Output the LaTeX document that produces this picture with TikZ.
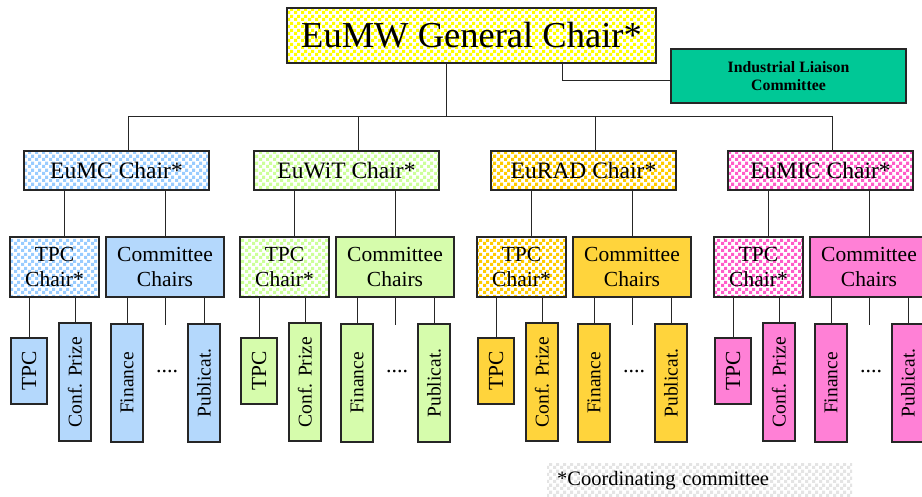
\documentclass[tikz,border=0pt]{standalone}
\usepackage{fontspec}
\setmainfont{Liberation Serif}
\usetikzlibrary{patterns.meta}
\usepackage{xcolor}
\definecolor{boxline}{HTML}{262626}
\definecolor{genchk}{HTML}{FFFF00}
\definecolor{ilcfill}{HTML}{00C896}
\definecolor{mcchk}{HTML}{99CCFF}
\definecolor{mcfill}{HTML}{B4D8FC}
\definecolor{witchk}{HTML}{CCFF99}
\definecolor{witfill}{HTML}{D6FCAC}
\definecolor{radchk}{HTML}{FFCC00}
\definecolor{radfill}{HTML}{FFD43C}
\definecolor{micchk}{HTML}{FF5CC8}
\definecolor{micfill}{HTML}{FF80D6}
\definecolor{notechk}{HTML}{E4E4E4}
\pgfdeclarepattern{
  name=checker,
  type=uncolored,
  bottom left={\pgfpointorigin},
  top right={\pgfpoint{7pt}{7pt}},
  tile size={\pgfpoint{7pt}{7pt}},
  code={
    \pgfpathrectangle{\pgfpointorigin}{\pgfpoint{3.5pt}{3.5pt}}
    \pgfpathrectangle{\pgfpoint{3.5pt}{3.5pt}}{\pgfpoint{3.5pt}{3.5pt}}
    \pgfusepath{fill}
  }
}
\tikzset{
  chk/.style     ={pattern=checker, pattern color=#1},
  box/.style     ={rectangle, draw=boxline, line width=1.3pt, inner sep=0pt, align=center},
  genbox/.style  ={box, chk=genchk, minimum width=369pt, minimum height=55pt,
                   font=\fontsize{36.5}{40}\selectfont},
  ilcbox/.style  ={box, fill=ilcfill, minimum width=235pt, minimum height=54pt,
                   font=\fontsize{15.8}{18.5}\selectfont\bfseries},
  chairbox/.style={box, chk=#1, minimum width=185pt, minimum height=39pt,
                   font=\fontsize{23.5}{25}\selectfont},
  tpcbox/.style  ={box, chk=#1, minimum width=89pt, minimum height=60pt,
                   font=\fontsize{21.5}{25}\selectfont},
  commbox/.style ={box, fill=#1, minimum width=118pt, minimum height=60pt,
                   font=\fontsize{21.5}{25}\selectfont},
  subbox/.style  ={box, fill=#1, rotate=90, minimum width=118pt, minimum height=32pt,
                   font=\fontsize{19.5}{21}\selectfont},
  tpcsub/.style  ={subbox=#1, minimum width=66pt, minimum height=36pt,
                   font=\fontsize{21.5}{24}\selectfont},
  wire/.style    ={draw=boxline, line width=0.9pt},
  notebox/.style ={rectangle, chk=notechk, inner xsep=10pt, inner ysep=0pt,
                   minimum height=34pt, text width=285pt, align=left,
                   font=\fontsize{20.5}{24}\selectfont},
}
\begin{document}
\begin{tikzpicture}[x=1pt, y=-1pt]
  \fill[white] (0,0) rectangle (922,497);
  \useasboundingbox (0,0) rectangle (922,497);

  % top level
  \node[genbox] (gen) at (471.5,35.5) {EuMW General Chair*};
  \node[ilcbox] (ilc) at (788.5,76) {Industrial Liaison\\Committee};
  \draw[wire] ([xshift=90.5pt]gen.south) |- ([yshift=-4pt]ilc.west);

  \coordinate (busL) at (128,116);
  \coordinate (busR) at (832,116);
  \draw[wire] (busL) -- (busR);
  \draw[wire] ([xshift=-25.5pt]gen.south) -- ([xshift=-25.5pt]gen.south |- busL);

  % one branch per conference
  \foreach \gx/\id/\lbl in {24/mc/EuMC, 254/wit/EuWiT, 491/rad/EuRAD, 728/mic/EuMIC} {
    \node[chairbox=\id chk] (\id-ch) at (\gx+92.5,170.5) {\lbl{} Chair*};
    \node[tpcbox=\id chk] (\id-tc) at (\gx+30.5,267) {TPC\\Chair*};
    \node[commbox=\id fill] (\id-cc) at (\gx+141,267) {Committee\\Chairs};

    \node[tpcsub=\id fill] (\id-t) at (\gx+5,371) {TPC};
    \node[subbox=\id fill] (\id-cp) at (\gx+51,382) {Conf. Prize};
    \node[subbox=\id fill] (\id-fi) at (\gx+103,383) {Finance};
    \node[subbox=\id fill] (\id-pu) at (\gx+180,383) {Publicat.};
    \node[anchor=base, inner sep=0pt, font=\fontsize{22}{24}\selectfont] (\id-dots) at (\gx+143,373) {....};

    \draw[wire] ([xshift=11.5pt]\id-ch.north) -- ([xshift=11.5pt]\id-ch.north |- busL);
    \draw[wire] ([xshift=-52.5pt]\id-ch.south) -- ([xshift=-52.5pt]\id-ch.south |- \id-tc.north);
    \draw[wire] ([xshift=48.5pt]\id-ch.south) -- (\id-cc.north);
    \draw[wire] (\id-t.east) -- (\id-t.east |- \id-tc.south);
    \draw[wire] (\id-cp.east) -- (\id-cp.east |- \id-tc.south);
    \draw[wire] (\id-fi.east) -- (\id-fi.east |- \id-cc.south);
    \draw[wire] (\id-pu.east) -- (\id-pu.east |- \id-cc.south);
    \draw[wire] (\id-cc.south) -- ++(0,27);
  }

  \node[notebox, anchor=north west] (note) at (547,463) {*Coordinating committee};
\end{tikzpicture}
\end{document}
